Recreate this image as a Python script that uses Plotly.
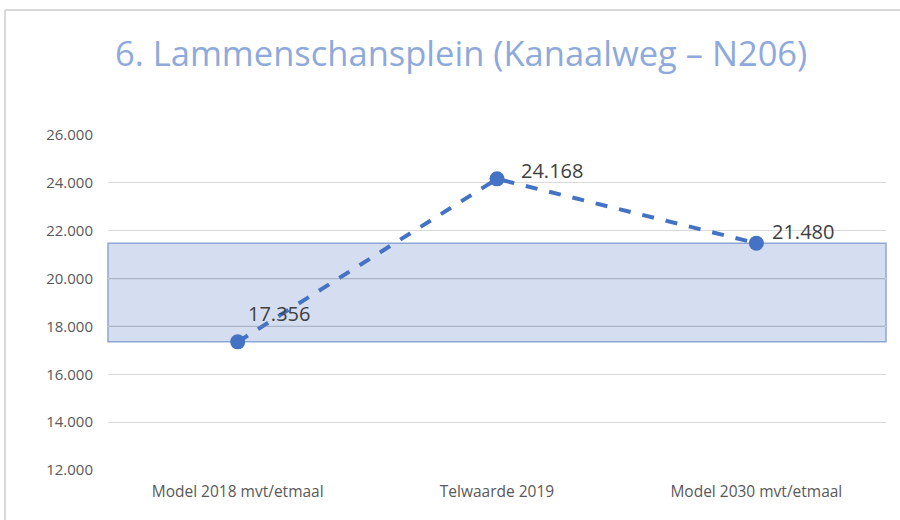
import plotly.graph_objects as go

# DATA
categories = ["Model 2018 mvt/etmaal", "Telwaarde 2019", "Model 2030 mvt/etmaal"]
values = [17356, 24168, 21480]
y_ticks = [12000, 14000, 16000, 18000, 20000, 22000, 24000, 26000]
title_text = "6. Lammenschansplein (Kanaalweg \u2013 N206)"

# band between model 2018 and model 2030
band_low, band_high = values[0], values[2]

# label offsets in pixels (x, y) per point
label_shift = [(8, 28), (22, 8), (14, 12)]

W, H = 900, 520
ML, MR, MT, MB = 108, 14, 135, 50
pw, ph = W - ML - MR, H - MT - MB

def px_x(x):
    return (x - ML) / pw

def px_y(y):
    return (H - MB - y) / ph

fig = go.Figure()

fig.add_trace(go.Scatter(
    x=categories, y=values,
    mode="lines+markers",
    line=dict(color="#4472C4", width=4, dash="dash"),
    marker=dict(color="#4472C4", size=15),
    showlegend=False,
    hoverinfo="skip",
))

# data labels
for c, v, (dx, dy) in zip(categories, values, label_shift):
    txt = "{:,}".format(v).replace(",", ".")
    fig.add_annotation(x=c, y=v, text=txt, showarrow=False, xanchor="left",
                       yanchor="middle", xshift=dx, yshift=dy,
                       font=dict(family="Open Sans", size=20, color="#404040"))

# shaded band
fig.add_shape(type="rect", xref="paper", yref="y", x0=0, x1=1,
              y0=band_low, y1=band_high, layer="below",
              fillcolor="#D5DEF0",
              line=dict(color="#8EA6D4", width=1.5))
# gridlines seen through the band
for t in y_ticks:
    if band_low < t < band_high:
        fig.add_shape(type="line", xref="paper", yref="y", x0=0.001, x1=0.999,
                      y0=t, y1=t, layer="above",
                      line=dict(color="rgba(120,140,180,0.45)", width=1.2))

# outer frame (cropped chart border)
fig.add_shape(type="line", xref="paper", yref="paper",
              x0=px_x(5), x1=px_x(5), y0=px_y(10), y1=px_y(530),
              line=dict(color="#D9D9D9", width=2), layer="above")
fig.add_shape(type="line", xref="paper", yref="paper",
              x0=px_x(5), x1=px_x(905), y0=px_y(10), y1=px_y(10),
              line=dict(color="#D9D9D9", width=2), layer="above")

fig.add_annotation(text=title_text, xref="paper", yref="paper",
                   x=px_x(461), y=px_y(53), showarrow=False,
                   xanchor="center", yanchor="middle",
                   font=dict(family="Open Sans", size=34.5, color="#8EA9DB"))

fig.update_layout(
    width=W, height=H,
    margin=dict(l=ML, r=MR, t=MT, b=MB),
    paper_bgcolor="white", plot_bgcolor="white",
    separators=",.",
    font=dict(family="Open Sans", color="#595959", size=15),
)
fig.update_xaxes(range=[-0.5, 2.5], showgrid=False, showline=False, ticks="",
                 ticklabelstandoff=10,
                 tickfont=dict(size=15.5, color="#595959"))
fig.update_yaxes(range=[12000, 26000], tickvals=y_ticks, tickformat=",d",
                 showgrid=True, gridcolor="#D9D9D9", gridwidth=1,
                 zeroline=False, showline=False, ticks="", ticklabelstandoff=14,
                 tickfont=dict(size=15, color="#595959"))

fig.write_html("out.html", config={"displayModeBar": False},
               post_script="document.body.style.margin='0';")
